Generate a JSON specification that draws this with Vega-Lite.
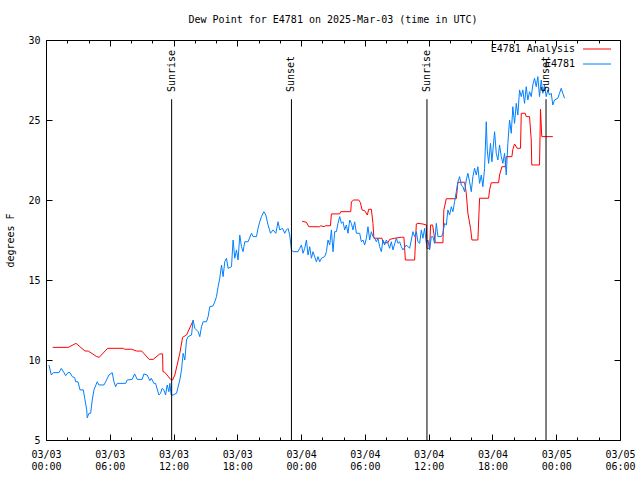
{
  "$schema": "https://vega.github.io/schema/vega-lite/v6.json",
  "width": 574,
  "height": 400,
  "autosize": {"type": "none"},
  "padding": {"left": 46, "top": 40, "right": 20, "bottom": 40},
  "title": {"text": "Dew Point for E4781 on 2025-Mar-03 (time in UTC)", "font": "DejaVu Sans Mono", "fontSize": 10, "fontWeight": "normal", "color": "black", "anchor": "middle", "offset": 10},
  "config": {
    "view": {"stroke": "black", "strokeWidth": 1},
    "axis": {"labelFont": "DejaVu Sans Mono", "labelFontSize": 10, "labelColor": "black", "titleFont": "DejaVu Sans Mono", "titleFontSize": 10, "titleFontWeight": "normal", "titleColor": "black", "tickColor": "black", "domain": false, "grid": false, "labelOverlap": false, "labelFlush": false},
    "legend": {"labelFont": "DejaVu Sans Mono", "labelFontSize": 10, "labelColor": "black"}
  },
  "datasets": {
    "sun": [
      {"h": 11.82, "label": "Sunrise"},
      {"h": 23.09, "label": "Sunset"},
      {"h": 35.84, "label": "Sunrise"},
      {"h": 47.04, "label": "Sunset"}
    ],
    "dew": [
      {"s": "E4781 Analysis", "g": 1, "h": 0.63, "v": 10.79},
      {"s": "E4781 Analysis", "g": 1, "h": 2.10, "v": 10.79},
      {"s": "E4781 Analysis", "g": 1, "h": 2.82, "v": 11.04},
      {"s": "E4781 Analysis", "g": 1, "h": 3.67, "v": 10.56},
      {"s": "E4781 Analysis", "g": 1, "h": 3.98, "v": 10.56},
      {"s": "E4781 Analysis", "g": 1, "h": 4.77, "v": 10.21},
      {"s": "E4781 Analysis", "g": 1, "h": 5.01, "v": 10.17},
      {"s": "E4781 Analysis", "g": 1, "h": 5.80, "v": 10.73},
      {"s": "E4781 Analysis", "g": 1, "h": 7.27, "v": 10.73},
      {"s": "E4781 Analysis", "g": 1, "h": 7.42, "v": 10.67},
      {"s": "E4781 Analysis", "g": 1, "h": 8.05, "v": 10.67},
      {"s": "E4781 Analysis", "g": 1, "h": 8.52, "v": 10.56},
      {"s": "E4781 Analysis", "g": 1, "h": 9.00, "v": 10.56},
      {"s": "E4781 Analysis", "g": 1, "h": 9.71, "v": 10.04},
      {"s": "E4781 Analysis", "g": 1, "h": 10.08, "v": 10.04},
      {"s": "E4781 Analysis", "g": 1, "h": 10.71, "v": 10.38},
      {"s": "E4781 Analysis", "g": 1, "h": 10.97, "v": 10.38},
      {"s": "E4781 Analysis", "g": 1, "h": 11.0, "v": 9.27},
      {"s": "E4781 Analysis", "g": 1, "h": 11.18, "v": 9.23},
      {"s": "E4781 Analysis", "g": 1, "h": 11.72, "v": 8.79},
      {"s": "E4781 Analysis", "g": 1, "h": 11.91, "v": 8.75},
      {"s": "E4781 Analysis", "g": 1, "h": 12.12, "v": 9.06},
      {"s": "E4781 Analysis", "g": 1, "h": 12.59, "v": 10.42},
      {"s": "E4781 Analysis", "g": 1, "h": 12.85, "v": 11.42},
      {"s": "E4781 Analysis", "g": 1, "h": 13.22, "v": 11.56},
      {"s": "E4781 Analysis", "g": 1, "h": 13.84, "v": 12.46},
      {"s": "E4781 Analysis", "g": 2, "h": 24.09, "v": 18.67},
      {"s": "E4781 Analysis", "g": 2, "h": 24.50, "v": 18.61},
      {"s": "E4781 Analysis", "g": 2, "h": 24.72, "v": 18.33},
      {"s": "E4781 Analysis", "g": 2, "h": 25.75, "v": 18.33},
      {"s": "E4781 Analysis", "g": 2, "h": 25.85, "v": 18.39},
      {"s": "E4781 Analysis", "g": 2, "h": 26.16, "v": 18.33},
      {"s": "E4781 Analysis", "g": 2, "h": 26.29, "v": 18.39},
      {"s": "E4781 Analysis", "g": 2, "h": 26.76, "v": 18.39},
      {"s": "E4781 Analysis", "g": 2, "h": 26.85, "v": 19.13},
      {"s": "E4781 Analysis", "g": 2, "h": 27.63, "v": 19.13},
      {"s": "E4781 Analysis", "g": 2, "h": 27.73, "v": 19.27},
      {"s": "E4781 Analysis", "g": 2, "h": 28.67, "v": 19.27},
      {"s": "E4781 Analysis", "g": 2, "h": 28.73, "v": 19.89},
      {"s": "E4781 Analysis", "g": 2, "h": 28.95, "v": 20.0},
      {"s": "E4781 Analysis", "g": 2, "h": 29.42, "v": 20.0},
      {"s": "E4781 Analysis", "g": 2, "h": 29.58, "v": 19.83},
      {"s": "E4781 Analysis", "g": 2, "h": 29.73, "v": 19.38},
      {"s": "E4781 Analysis", "g": 2, "h": 29.98, "v": 19.33},
      {"s": "E4781 Analysis", "g": 2, "h": 30.23, "v": 19.06},
      {"s": "E4781 Analysis", "g": 2, "h": 30.36, "v": 19.42},
      {"s": "E4781 Analysis", "g": 2, "h": 30.61, "v": 19.42},
      {"s": "E4781 Analysis", "g": 2, "h": 30.76, "v": 18.54},
      {"s": "E4781 Analysis", "g": 2, "h": 30.85, "v": 17.61},
      {"s": "E4781 Analysis", "g": 2, "h": 31.61, "v": 17.61},
      {"s": "E4781 Analysis", "g": 2, "h": 31.70, "v": 17.33},
      {"s": "E4781 Analysis", "g": 2, "h": 32.17, "v": 17.33},
      {"s": "E4781 Analysis", "g": 2, "h": 32.33, "v": 17.54},
      {"s": "E4781 Analysis", "g": 2, "h": 32.80, "v": 17.61},
      {"s": "E4781 Analysis", "g": 2, "h": 33.43, "v": 17.67},
      {"s": "E4781 Analysis", "g": 2, "h": 33.67, "v": 17.67},
      {"s": "E4781 Analysis", "g": 2, "h": 33.81, "v": 16.25},
      {"s": "E4781 Analysis", "g": 2, "h": 34.68, "v": 16.25},
      {"s": "E4781 Analysis", "g": 2, "h": 34.84, "v": 18.5},
      {"s": "E4781 Analysis", "g": 2, "h": 34.99, "v": 18.54},
      {"s": "E4781 Analysis", "g": 2, "h": 35.46, "v": 18.5},
      {"s": "E4781 Analysis", "g": 2, "h": 35.78, "v": 18.44},
      {"s": "E4781 Analysis", "g": 2, "h": 35.84, "v": 16.98},
      {"s": "E4781 Analysis", "g": 2, "h": 36.09, "v": 16.98},
      {"s": "E4781 Analysis", "g": 2, "h": 36.18, "v": 18.44},
      {"s": "E4781 Analysis", "g": 2, "h": 36.37, "v": 18.44},
      {"s": "E4781 Analysis", "g": 2, "h": 36.62, "v": 17.33},
      {"s": "E4781 Analysis", "g": 2, "h": 37.34, "v": 17.33},
      {"s": "E4781 Analysis", "g": 2, "h": 37.43, "v": 19.38},
      {"s": "E4781 Analysis", "g": 2, "h": 37.66, "v": 20.08},
      {"s": "E4781 Analysis", "g": 2, "h": 38.60, "v": 20.08},
      {"s": "E4781 Analysis", "g": 2, "h": 38.75, "v": 21.11},
      {"s": "E4781 Analysis", "g": 2, "h": 39.38, "v": 21.11},
      {"s": "E4781 Analysis", "g": 2, "h": 39.54, "v": 20.42},
      {"s": "E4781 Analysis", "g": 2, "h": 39.69, "v": 19.17},
      {"s": "E4781 Analysis", "g": 2, "h": 39.94, "v": 18.23},
      {"s": "E4781 Analysis", "g": 2, "h": 40.07, "v": 17.5},
      {"s": "E4781 Analysis", "g": 2, "h": 40.63, "v": 17.5},
      {"s": "E4781 Analysis", "g": 2, "h": 40.79, "v": 20.11},
      {"s": "E4781 Analysis", "g": 2, "h": 41.64, "v": 20.11},
      {"s": "E4781 Analysis", "g": 2, "h": 41.73, "v": 20.63},
      {"s": "E4781 Analysis", "g": 2, "h": 41.89, "v": 21.08},
      {"s": "E4781 Analysis", "g": 2, "h": 42.58, "v": 21.08},
      {"s": "E4781 Analysis", "g": 2, "h": 42.67, "v": 21.56},
      {"s": "E4781 Analysis", "g": 2, "h": 42.89, "v": 22.08},
      {"s": "E4781 Analysis", "g": 2, "h": 43.20, "v": 22.08},
      {"s": "E4781 Analysis", "g": 2, "h": 43.30, "v": 22.71},
      {"s": "E4781 Analysis", "g": 2, "h": 43.83, "v": 22.71},
      {"s": "E4781 Analysis", "g": 2, "h": 43.92, "v": 23.17},
      {"s": "E4781 Analysis", "g": 2, "h": 44.08, "v": 23.5},
      {"s": "E4781 Analysis", "g": 2, "h": 44.33, "v": 23.23},
      {"s": "E4781 Analysis", "g": 2, "h": 44.64, "v": 23.23},
      {"s": "E4781 Analysis", "g": 2, "h": 44.71, "v": 25.42},
      {"s": "E4781 Analysis", "g": 2, "h": 45.08, "v": 25.42},
      {"s": "E4781 Analysis", "g": 2, "h": 45.18, "v": 25.21},
      {"s": "E4781 Analysis", "g": 2, "h": 45.49, "v": 25.21},
      {"s": "E4781 Analysis", "g": 2, "h": 45.65, "v": 23.75},
      {"s": "E4781 Analysis", "g": 2, "h": 45.70, "v": 22.19},
      {"s": "E4781 Analysis", "g": 2, "h": 46.43, "v": 22.19},
      {"s": "E4781 Analysis", "g": 2, "h": 46.52, "v": 25.67},
      {"s": "E4781 Analysis", "g": 2, "h": 46.64, "v": 23.96},
      {"s": "E4781 Analysis", "g": 2, "h": 47.68, "v": 23.96},
      {"s": "E4781", "g": 3, "h": 0.28, "v": 9.69},
      {"s": "E4781", "g": 3, "h": 0.50, "v": 9.06},
      {"s": "E4781", "g": 3, "h": 0.69, "v": 9.21},
      {"s": "E4781", "g": 3, "h": 1.22, "v": 9.21},
      {"s": "E4781", "g": 3, "h": 1.44, "v": 9.48},
      {"s": "E4781", "g": 3, "h": 1.69, "v": 9.21},
      {"s": "E4781", "g": 3, "h": 1.85, "v": 9.02},
      {"s": "E4781", "g": 3, "h": 2.07, "v": 9.21},
      {"s": "E4781", "g": 3, "h": 2.26, "v": 9.21},
      {"s": "E4781", "g": 3, "h": 2.47, "v": 8.96},
      {"s": "E4781", "g": 3, "h": 2.70, "v": 8.89},
      {"s": "E4781", "g": 3, "h": 2.79, "v": 8.64},
      {"s": "E4781", "g": 3, "h": 3.01, "v": 8.64},
      {"s": "E4781", "g": 3, "h": 3.20, "v": 8.13},
      {"s": "E4781", "g": 3, "h": 3.51, "v": 8.13},
      {"s": "E4781", "g": 3, "h": 3.64, "v": 7.61},
      {"s": "E4781", "g": 3, "h": 3.83, "v": 6.88},
      {"s": "E4781", "g": 3, "h": 3.88, "v": 6.39},
      {"s": "E4781", "g": 3, "h": 4.04, "v": 6.67},
      {"s": "E4781", "g": 3, "h": 4.20, "v": 6.67},
      {"s": "E4781", "g": 3, "h": 4.35, "v": 7.5},
      {"s": "E4781", "g": 3, "h": 4.51, "v": 8.13},
      {"s": "E4781", "g": 3, "h": 4.82, "v": 8.64},
      {"s": "E4781", "g": 3, "h": 4.98, "v": 8.44},
      {"s": "E4781", "g": 3, "h": 5.45, "v": 8.44},
      {"s": "E4781", "g": 3, "h": 5.61, "v": 8.64},
      {"s": "E4781", "g": 3, "h": 5.92, "v": 9.06},
      {"s": "E4781", "g": 3, "h": 6.23, "v": 9.21},
      {"s": "E4781", "g": 3, "h": 6.39, "v": 8.64},
      {"s": "E4781", "g": 3, "h": 6.55, "v": 8.33},
      {"s": "E4781", "g": 3, "h": 6.70, "v": 8.54},
      {"s": "E4781", "g": 3, "h": 7.49, "v": 8.54},
      {"s": "E4781", "g": 3, "h": 7.64, "v": 8.75},
      {"s": "E4781", "g": 3, "h": 8.11, "v": 8.79},
      {"s": "E4781", "g": 3, "h": 8.34, "v": 9.13},
      {"s": "E4781", "g": 3, "h": 8.58, "v": 8.79},
      {"s": "E4781", "g": 3, "h": 9.05, "v": 8.79},
      {"s": "E4781", "g": 3, "h": 9.21, "v": 9.13},
      {"s": "E4781", "g": 3, "h": 9.52, "v": 9.06},
      {"s": "E4781", "g": 3, "h": 9.77, "v": 8.71},
      {"s": "E4781", "g": 3, "h": 9.90, "v": 8.86},
      {"s": "E4781", "g": 3, "h": 10.15, "v": 8.54},
      {"s": "E4781", "g": 3, "h": 10.31, "v": 8.54},
      {"s": "E4781", "g": 3, "h": 10.62, "v": 7.81},
      {"s": "E4781", "g": 3, "h": 10.78, "v": 7.92},
      {"s": "E4781", "g": 3, "h": 10.93, "v": 8.23},
      {"s": "E4781", "g": 3, "h": 11.09, "v": 8.13},
      {"s": "E4781", "g": 3, "h": 11.25, "v": 7.81},
      {"s": "E4781", "g": 3, "h": 11.40, "v": 8.44},
      {"s": "E4781", "g": 3, "h": 11.56, "v": 8.02},
      {"s": "E4781", "g": 3, "h": 11.65, "v": 8.54},
      {"s": "E4781", "g": 3, "h": 11.78, "v": 7.81},
      {"s": "E4781", "g": 3, "h": 11.96, "v": 7.81},
      {"s": "E4781", "g": 3, "h": 12.28, "v": 7.92},
      {"s": "E4781", "g": 3, "h": 12.59, "v": 8.75},
      {"s": "E4781", "g": 3, "h": 12.75, "v": 9.38},
      {"s": "E4781", "g": 3, "h": 12.90, "v": 10.42},
      {"s": "E4781", "g": 3, "h": 13.06, "v": 10.0},
      {"s": "E4781", "g": 3, "h": 13.22, "v": 11.25},
      {"s": "E4781", "g": 3, "h": 13.37, "v": 11.46},
      {"s": "E4781", "g": 3, "h": 13.69, "v": 11.56},
      {"s": "E4781", "g": 3, "h": 13.84, "v": 12.5},
      {"s": "E4781", "g": 3, "h": 14.0, "v": 11.98},
      {"s": "E4781", "g": 3, "h": 14.31, "v": 11.77},
      {"s": "E4781", "g": 3, "h": 14.47, "v": 11.46},
      {"s": "E4781", "g": 3, "h": 14.63, "v": 12.08},
      {"s": "E4781", "g": 3, "h": 14.78, "v": 12.39},
      {"s": "E4781", "g": 3, "h": 15.10, "v": 12.39},
      {"s": "E4781", "g": 3, "h": 15.25, "v": 12.71},
      {"s": "E4781", "g": 3, "h": 15.41, "v": 13.33},
      {"s": "E4781", "g": 3, "h": 15.72, "v": 13.38},
      {"s": "E4781", "g": 3, "h": 15.88, "v": 13.64},
      {"s": "E4781", "g": 3, "h": 16.04, "v": 13.96},
      {"s": "E4781", "g": 3, "h": 16.19, "v": 14.58},
      {"s": "E4781", "g": 3, "h": 16.35, "v": 15.11},
      {"s": "E4781", "g": 3, "h": 16.51, "v": 15.94},
      {"s": "E4781", "g": 3, "h": 16.66, "v": 15.21},
      {"s": "E4781", "g": 3, "h": 16.82, "v": 16.14},
      {"s": "E4781", "g": 3, "h": 16.98, "v": 16.36},
      {"s": "E4781", "g": 3, "h": 17.13, "v": 15.73},
      {"s": "E4781", "g": 3, "h": 17.45, "v": 15.83},
      {"s": "E4781", "g": 3, "h": 17.60, "v": 17.5},
      {"s": "E4781", "g": 3, "h": 17.76, "v": 16.36},
      {"s": "E4781", "g": 3, "h": 17.92, "v": 16.88},
      {"s": "E4781", "g": 3, "h": 18.07, "v": 16.25},
      {"s": "E4781", "g": 3, "h": 18.23, "v": 17.81},
      {"s": "E4781", "g": 3, "h": 18.39, "v": 17.08},
      {"s": "E4781", "g": 3, "h": 18.54, "v": 16.77},
      {"s": "E4781", "g": 3, "h": 18.70, "v": 17.39},
      {"s": "E4781", "g": 3, "h": 19.01, "v": 17.39},
      {"s": "E4781", "g": 3, "h": 19.33, "v": 17.92},
      {"s": "E4781", "g": 3, "h": 19.48, "v": 17.71},
      {"s": "E4781", "g": 3, "h": 19.80, "v": 17.71},
      {"s": "E4781", "g": 3, "h": 19.95, "v": 18.23},
      {"s": "E4781", "g": 3, "h": 20.11, "v": 18.64},
      {"s": "E4781", "g": 3, "h": 20.27, "v": 18.96},
      {"s": "E4781", "g": 3, "h": 20.49, "v": 19.27},
      {"s": "E4781", "g": 3, "h": 20.68, "v": 19.06},
      {"s": "E4781", "g": 3, "h": 20.89, "v": 18.44},
      {"s": "E4781", "g": 3, "h": 21.12, "v": 17.92},
      {"s": "E4781", "g": 3, "h": 21.36, "v": 18.13},
      {"s": "E4781", "g": 3, "h": 21.62, "v": 17.92},
      {"s": "E4781", "g": 3, "h": 21.83, "v": 18.64},
      {"s": "E4781", "g": 3, "h": 21.99, "v": 18.13},
      {"s": "E4781", "g": 3, "h": 22.25, "v": 18.23},
      {"s": "E4781", "g": 3, "h": 22.46, "v": 17.92},
      {"s": "E4781", "g": 3, "h": 22.62, "v": 18.13},
      {"s": "E4781", "g": 3, "h": 22.77, "v": 18.23},
      {"s": "E4781", "g": 3, "h": 22.93, "v": 17.81},
      {"s": "E4781", "g": 3, "h": 23.09, "v": 16.88},
      {"s": "E4781", "g": 3, "h": 23.24, "v": 16.77},
      {"s": "E4781", "g": 3, "h": 23.71, "v": 16.77},
      {"s": "E4781", "g": 3, "h": 23.87, "v": 16.98},
      {"s": "E4781", "g": 3, "h": 24.03, "v": 17.19},
      {"s": "E4781", "g": 3, "h": 24.18, "v": 16.67},
      {"s": "E4781", "g": 3, "h": 24.34, "v": 16.98},
      {"s": "E4781", "g": 3, "h": 24.50, "v": 17.5},
      {"s": "E4781", "g": 3, "h": 24.65, "v": 16.56},
      {"s": "E4781", "g": 3, "h": 24.81, "v": 17.08},
      {"s": "E4781", "g": 3, "h": 24.97, "v": 16.36},
      {"s": "E4781", "g": 3, "h": 25.12, "v": 16.77},
      {"s": "E4781", "g": 3, "h": 25.44, "v": 16.14},
      {"s": "E4781", "g": 3, "h": 25.59, "v": 16.46},
      {"s": "E4781", "g": 3, "h": 25.75, "v": 16.14},
      {"s": "E4781", "g": 3, "h": 25.91, "v": 16.36},
      {"s": "E4781", "g": 3, "h": 26.22, "v": 16.46},
      {"s": "E4781", "g": 3, "h": 26.38, "v": 16.77},
      {"s": "E4781", "g": 3, "h": 26.53, "v": 17.5},
      {"s": "E4781", "g": 3, "h": 26.69, "v": 17.19},
      {"s": "E4781", "g": 3, "h": 26.85, "v": 18.13},
      {"s": "E4781", "g": 3, "h": 27.0, "v": 16.77},
      {"s": "E4781", "g": 3, "h": 27.16, "v": 18.02},
      {"s": "E4781", "g": 3, "h": 27.32, "v": 18.02},
      {"s": "E4781", "g": 3, "h": 27.47, "v": 18.54},
      {"s": "E4781", "g": 3, "h": 27.63, "v": 18.96},
      {"s": "E4781", "g": 3, "h": 27.79, "v": 18.54},
      {"s": "E4781", "g": 3, "h": 27.94, "v": 18.64},
      {"s": "E4781", "g": 3, "h": 28.10, "v": 18.13},
      {"s": "E4781", "g": 3, "h": 28.26, "v": 18.44},
      {"s": "E4781", "g": 3, "h": 28.41, "v": 17.92},
      {"s": "E4781", "g": 3, "h": 28.57, "v": 18.75},
      {"s": "E4781", "g": 3, "h": 28.73, "v": 18.54},
      {"s": "E4781", "g": 3, "h": 28.88, "v": 18.13},
      {"s": "E4781", "g": 3, "h": 29.04, "v": 18.64},
      {"s": "E4781", "g": 3, "h": 29.20, "v": 17.92},
      {"s": "E4781", "g": 3, "h": 29.51, "v": 17.92},
      {"s": "E4781", "g": 3, "h": 29.67, "v": 17.39},
      {"s": "E4781", "g": 3, "h": 29.82, "v": 17.5},
      {"s": "E4781", "g": 3, "h": 29.98, "v": 17.19},
      {"s": "E4781", "g": 3, "h": 30.14, "v": 17.61},
      {"s": "E4781", "g": 3, "h": 30.29, "v": 18.33},
      {"s": "E4781", "g": 3, "h": 30.45, "v": 17.5},
      {"s": "E4781", "g": 3, "h": 30.61, "v": 18.02},
      {"s": "E4781", "g": 3, "h": 30.76, "v": 17.71},
      {"s": "E4781", "g": 3, "h": 30.92, "v": 17.61},
      {"s": "E4781", "g": 3, "h": 31.08, "v": 17.39},
      {"s": "E4781", "g": 3, "h": 31.23, "v": 17.61},
      {"s": "E4781", "g": 3, "h": 31.39, "v": 17.08},
      {"s": "E4781", "g": 3, "h": 31.55, "v": 16.77},
      {"s": "E4781", "g": 3, "h": 31.70, "v": 17.5},
      {"s": "E4781", "g": 3, "h": 31.86, "v": 17.19},
      {"s": "E4781", "g": 3, "h": 32.02, "v": 17.5},
      {"s": "E4781", "g": 3, "h": 32.17, "v": 17.29},
      {"s": "E4781", "g": 3, "h": 32.33, "v": 16.98},
      {"s": "E4781", "g": 3, "h": 32.49, "v": 17.39},
      {"s": "E4781", "g": 3, "h": 32.64, "v": 16.88},
      {"s": "E4781", "g": 3, "h": 32.96, "v": 17.61},
      {"s": "E4781", "g": 3, "h": 33.11, "v": 17.29},
      {"s": "E4781", "g": 3, "h": 33.27, "v": 17.39},
      {"s": "E4781", "g": 3, "h": 33.43, "v": 17.08},
      {"s": "E4781", "g": 3, "h": 33.58, "v": 16.88},
      {"s": "E4781", "g": 3, "h": 33.90, "v": 17.19},
      {"s": "E4781", "g": 3, "h": 34.21, "v": 16.98},
      {"s": "E4781", "g": 3, "h": 34.37, "v": 17.5},
      {"s": "E4781", "g": 3, "h": 34.52, "v": 18.02},
      {"s": "E4781", "g": 3, "h": 34.68, "v": 17.71},
      {"s": "E4781", "g": 3, "h": 34.84, "v": 18.02},
      {"s": "E4781", "g": 3, "h": 34.99, "v": 17.39},
      {"s": "E4781", "g": 3, "h": 35.15, "v": 17.29},
      {"s": "E4781", "g": 3, "h": 35.31, "v": 18.13},
      {"s": "E4781", "g": 3, "h": 35.46, "v": 17.61},
      {"s": "E4781", "g": 3, "h": 35.62, "v": 18.23},
      {"s": "E4781", "g": 3, "h": 35.78, "v": 17.29},
      {"s": "E4781", "g": 3, "h": 35.93, "v": 17.5},
      {"s": "E4781", "g": 3, "h": 36.09, "v": 16.88},
      {"s": "E4781", "g": 3, "h": 36.25, "v": 17.71},
      {"s": "E4781", "g": 3, "h": 36.40, "v": 17.71},
      {"s": "E4781", "g": 3, "h": 36.56, "v": 17.29},
      {"s": "E4781", "g": 3, "h": 36.72, "v": 18.54},
      {"s": "E4781", "g": 3, "h": 36.87, "v": 17.71},
      {"s": "E4781", "g": 3, "h": 37.19, "v": 17.71},
      {"s": "E4781", "g": 3, "h": 37.34, "v": 17.92},
      {"s": "E4781", "g": 3, "h": 37.50, "v": 18.54},
      {"s": "E4781", "g": 3, "h": 37.66, "v": 18.44},
      {"s": "E4781", "g": 3, "h": 37.81, "v": 19.38},
      {"s": "E4781", "g": 3, "h": 37.97, "v": 19.06},
      {"s": "E4781", "g": 3, "h": 38.13, "v": 19.58},
      {"s": "E4781", "g": 3, "h": 38.28, "v": 19.27},
      {"s": "E4781", "g": 3, "h": 38.44, "v": 19.89},
      {"s": "E4781", "g": 3, "h": 38.60, "v": 20.52},
      {"s": "E4781", "g": 3, "h": 38.75, "v": 21.14},
      {"s": "E4781", "g": 3, "h": 38.91, "v": 21.46},
      {"s": "E4781", "g": 3, "h": 39.07, "v": 20.94},
      {"s": "E4781", "g": 3, "h": 39.22, "v": 20.83},
      {"s": "E4781", "g": 3, "h": 39.38, "v": 20.52},
      {"s": "E4781", "g": 3, "h": 39.54, "v": 21.25},
      {"s": "E4781", "g": 3, "h": 39.69, "v": 21.67},
      {"s": "E4781", "g": 3, "h": 39.85, "v": 21.14},
      {"s": "E4781", "g": 3, "h": 40.01, "v": 20.52},
      {"s": "E4781", "g": 3, "h": 40.16, "v": 21.46},
      {"s": "E4781", "g": 3, "h": 40.32, "v": 21.98},
      {"s": "E4781", "g": 3, "h": 40.48, "v": 21.56},
      {"s": "E4781", "g": 3, "h": 40.63, "v": 22.08},
      {"s": "E4781", "g": 3, "h": 40.79, "v": 21.04},
      {"s": "E4781", "g": 3, "h": 40.95, "v": 21.56},
      {"s": "E4781", "g": 3, "h": 41.10, "v": 20.83},
      {"s": "E4781", "g": 3, "h": 41.26, "v": 21.98},
      {"s": "E4781", "g": 3, "h": 41.42, "v": 24.89},
      {"s": "E4781", "g": 3, "h": 41.51, "v": 23.13},
      {"s": "E4781", "g": 3, "h": 41.64, "v": 22.29},
      {"s": "E4781", "g": 3, "h": 41.82, "v": 23.54},
      {"s": "E4781", "g": 3, "h": 41.95, "v": 22.39},
      {"s": "E4781", "g": 3, "h": 42.20, "v": 24.27},
      {"s": "E4781", "g": 3, "h": 42.36, "v": 22.92},
      {"s": "E4781", "g": 3, "h": 42.51, "v": 22.5},
      {"s": "E4781", "g": 3, "h": 42.67, "v": 23.44},
      {"s": "E4781", "g": 3, "h": 42.83, "v": 22.71},
      {"s": "E4781", "g": 3, "h": 42.98, "v": 22.29},
      {"s": "E4781", "g": 3, "h": 43.14, "v": 22.92},
      {"s": "E4781", "g": 3, "h": 43.30, "v": 21.56},
      {"s": "E4781", "g": 3, "h": 43.45, "v": 23.54},
      {"s": "E4781", "g": 3, "h": 43.61, "v": 25.0},
      {"s": "E4781", "g": 3, "h": 43.77, "v": 24.17},
      {"s": "E4781", "g": 3, "h": 43.92, "v": 25.83},
      {"s": "E4781", "g": 3, "h": 44.08, "v": 24.79},
      {"s": "E4781", "g": 3, "h": 44.24, "v": 26.04},
      {"s": "E4781", "g": 3, "h": 44.39, "v": 25.31},
      {"s": "E4781", "g": 3, "h": 44.55, "v": 26.88},
      {"s": "E4781", "g": 3, "h": 44.71, "v": 26.46},
      {"s": "E4781", "g": 3, "h": 44.86, "v": 26.88},
      {"s": "E4781", "g": 3, "h": 45.02, "v": 26.04},
      {"s": "E4781", "g": 3, "h": 45.18, "v": 27.08},
      {"s": "E4781", "g": 3, "h": 45.33, "v": 26.25},
      {"s": "E4781", "g": 3, "h": 45.49, "v": 26.77},
      {"s": "E4781", "g": 3, "h": 45.65, "v": 26.46},
      {"s": "E4781", "g": 3, "h": 45.80, "v": 27.19},
      {"s": "E4781", "g": 3, "h": 45.96, "v": 27.61},
      {"s": "E4781", "g": 3, "h": 46.12, "v": 27.08},
      {"s": "E4781", "g": 3, "h": 46.27, "v": 27.71},
      {"s": "E4781", "g": 3, "h": 46.43, "v": 26.46},
      {"s": "E4781", "g": 3, "h": 46.59, "v": 27.5},
      {"s": "E4781", "g": 3, "h": 46.74, "v": 26.67},
      {"s": "E4781", "g": 3, "h": 46.90, "v": 27.19},
      {"s": "E4781", "g": 3, "h": 47.06, "v": 26.46},
      {"s": "E4781", "g": 3, "h": 47.21, "v": 26.88},
      {"s": "E4781", "g": 3, "h": 47.37, "v": 26.56},
      {"s": "E4781", "g": 3, "h": 47.53, "v": 26.67},
      {"s": "E4781", "g": 3, "h": 47.68, "v": 25.94},
      {"s": "E4781", "g": 3, "h": 47.84, "v": 26.25},
      {"s": "E4781", "g": 3, "h": 48.15, "v": 26.36},
      {"s": "E4781", "g": 3, "h": 48.31, "v": 26.67},
      {"s": "E4781", "g": 3, "h": 48.47, "v": 26.98},
      {"s": "E4781", "g": 3, "h": 48.62, "v": 26.67},
      {"s": "E4781", "g": 3, "h": 48.78, "v": 26.36}
    ]
  },
  "layer": [
    {
      "data": {"name": "dew"},
      "mark": {"type": "line", "strokeWidth": 1, "interpolate": "linear"},
      "encoding": {
        "x": {"field": "h", "type": "quantitative", "scale": {"domain": [0, 54], "nice": false, "zero": false},
          "axis": {"orient": "bottom", "title": null, "values": [0,2,4,6,8,10,12,14,16,18,20,22,24,26,28,30,32,34,36,38,40,42,44,46,48,50,52,54],
            "tickSize": {"condition": {"test": "datum.value % 6 == 0", "value": -6}, "value": -3},
            "labelPadding": 15, "labelLineHeight": 12, "labelBaseline": "top",
            "labelExpr": "datum.value % 6 != 0 ? '' : [(datum.value < 24 ? '03/03' : (datum.value < 48 ? '03/04' : '03/05')), ((datum.value % 24) < 10 ? '0' : '') + (datum.value % 24) + ':00']"}},
        "y": {"field": "v", "type": "quantitative", "scale": {"domain": [5, 30], "nice": false, "zero": false},
          "axis": {"orient": "left", "title": "degrees F", "values": [5,10,15,20,25,30], "tickSize": -6, "labelPadding": 12,
            "titleX": -36, "titleY": 200, "titleAngle": 270, "titleAlign": "center", "titleBaseline": "middle"}},
        "color": {"field": "s", "type": "nominal", "scale": {"domain": ["E4781 Analysis", "E4781"], "range": ["#ff0000", "#0080ff"]},
          "legend": {"title": null, "orient": "none", "legendX": 546, "legendY": 4, "symbolType": "M-4,0H4", "symbolSize": 49, "symbolStrokeWidth": 1, "symbolFillColor": "transparent", "labelAlign": "right", "labelOffset": -27, "rowPadding": 5, "padding": 0}},
        "detail": {"field": "g", "type": "nominal"}
      }
    },
    {
      "data": {"name": "sun"},
      "mark": {"type": "rule", "color": "black", "strokeWidth": 1},
      "encoding": {
        "x": {"field": "h", "type": "quantitative",
          "axis": {"orient": "top", "title": null, "labels": false, "values": [0,2,4,6,8,10,12,14,16,18,20,22,24,26,28,30,32,34,36,38,40,42,44,46,48,50,52,54],
            "tickSize": {"condition": {"test": "datum.value % 6 == 0", "value": -6}, "value": -3}}},
        "y": {"datum": 5, "type": "quantitative",
          "axis": {"orient": "right", "title": null, "labels": false, "values": [5,10,15,20,25,30], "tickSize": -6}},
        "y2": {"datum": 26.3}
      }
    },
    {
      "data": {"name": "sun"},
      "mark": {"type": "text", "angle": 270, "align": "left", "baseline": "middle", "font": "DejaVu Sans Mono", "fontSize": 10, "color": "black"},
      "encoding": {
        "x": {"field": "h", "type": "quantitative", "axis": null},
        "y": {"datum": 26.75, "type": "quantitative", "axis": null},
        "text": {"field": "label"}
      }
    }
  ],
  "resolve": {"axis": {"x": "independent", "y": "independent"}}
}
